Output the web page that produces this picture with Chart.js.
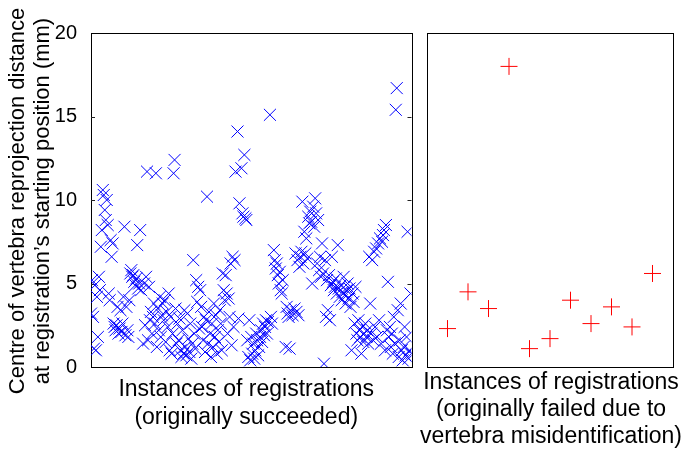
<!DOCTYPE html>
<html>
<head>
<meta charset="utf-8">
<title>Reprojection distance at starting position</title>
<script src="https://cdn.jsdelivr.net/npm/chart.js@4/dist/chart.umd.min.js"></script>
<style>
  html, body { margin: 0; padding: 0; background: #fff; width: 700px; height: 449px; overflow: hidden; }
  canvas { position: absolute; top: 0; }
  #succeeded { left: 0; }
  #failed { left: 400px; }
</style>
</head>
<body>
<canvas id="succeeded" width="421" height="449"></canvas>
<canvas id="failed" width="300" height="449"></canvas>
<script>
// ---- data ----
const yTickValues = [0, 5, 10, 15, 20];

// registrations that originally succeeded (instance number, distance in mm)
const succeededIndex = [
  0, 1, 2, 3, 4, 5, 6, 7, 8, 9, 10, 11, 12, 13, 14, 15, 16, 17, 18, 19,
  20, 21, 22, 23, 24, 25, 26, 27, 28, 29, 30, 31, 32, 33, 34, 35, 36, 37, 38, 39,
  40, 41, 42, 43, 44, 45, 46, 47, 48, 49, 50, 51, 53, 54, 55, 56, 57, 58, 59,
  60, 61, 62, 63, 64, 65, 66, 67, 68, 69, 70, 71, 72, 73, 74, 75, 76, 77, 78, 79,
  80, 81, 82, 83, 84, 85, 86, 87, 88, 89, 90, 91, 92, 93, 94, 95, 96, 97, 98, 99,
  100, 101, 102, 103, 104, 105, 106, 107, 108, 109, 110, 111, 112, 113, 114, 115, 116, 117, 118, 119,
  120, 121, 122, 123, 124, 125, 126, 127, 128, 129, 130, 131, 132, 133, 134, 135, 136, 137, 138, 139,
  140, 141, 142, 143, 144, 145, 146, 147, 149, 150, 151, 153, 154, 155, 156, 157, 158, 159,
  160, 161, 162, 163, 164, 165, 166, 167, 168, 169, 170, 171, 172, 173, 174, 175, 176, 177, 178, 179,
  180, 182, 183, 184, 186, 187, 188, 189, 190, 191, 192, 193, 194, 195, 198, 199,
  200, 201, 202, 203, 205, 207, 208, 209, 210, 211, 212, 213, 214, 215, 216, 217, 218, 219,
  220, 221, 222, 223, 224, 225, 226, 227, 228, 229, 230, 231, 232, 233, 234, 235, 236, 237, 238, 239,
  240, 241, 242, 243, 244, 245, 246, 247, 248, 249, 250, 251, 252, 253, 254, 255, 256, 257, 258, 259,
  260, 261, 262, 263, 264, 265, 266, 267, 268, 269, 270, 271, 272, 273, 274, 275, 276, 277, 278, 279,
  280, 281, 282, 283, 284, 285, 286, 287, 288, 289, 290, 291, 292, 293, 294, 295, 296, 297, 298, 299,
  300, 301, 302, 303, 304, 305, 306, 307, 308, 309, 310, 311, 312, 313, 314, 315, 316, 317, 318, 319,
  320, 321, 322, 323, 324, 325, 326
];
const succeededDistance = [
  3.2, 5.2, 3.0, 1.1, 4.9, 1.0, 4.2, 1.8, 5.4, 4.6, 7.2, 8.2, 10.6, 10.3, 9.4, 8.8, 10.0, 8.5, 4.4, 4.0,
  7.6, 6.6, 7.4, 2.6, 2.4, 2.2, 2.5, 3.6, 2.0, 2.3, 3.4, 2.1, 2.6, 4.2, 8.4, 1.9, 3.6, 2.2, 1.8, 4.0,
  5.6, 5.8, 5.4, 5.5, 5.1, 4.9, 5.3, 7.3, 4.7, 5.0, 8.2, 4.6, 1.4, 5.0, 2.5, 5.4, 11.7, 1.6, 4.8,
  2.8, 3.3, 2.0, 3.0, 3.8, 2.6, 11.6, 1.2, 3.5, 2.2, 4.2, 1.8, 3.1, 3.8, 2.8, 4.0, 1.5, 3.3, 2.4, 4.4,
  1.0, 3.0, 0.8, 2.0, 11.6, 12.4, 3.5, 1.4, 2.6, 1.6, 2.9, 1.0, 0.6, 2.2, 0.8, 3.4, 1.2, 0.7, 3.2, 1.7,
  0.9, 2.6, 0.5, 1.4, 6.4, 2.0, 1.1, 5.2, 3.9, 4.8, 2.3, 4.6, 3.6, 2.4, 1.6, 3.0, 0.9, 2.8, 10.2, 1.4,
  3.3, 2.0, 0.6, 2.6, 1.2, 3.8, 1.8, 3.1, 0.8, 2.2, 1.5, 3.4, 2.6, 1.0, 5.6, 4.6, 4.0, 5.5, 4.4, 2.0,
  4.1, 3.0, 6.2, 1.3, 6.6, 2.4, 6.4, 11.7, 14.1, 2.9, 9.8, 11.9, 9.2, 9.0, 12.7, 8.9, 8.8, 1.6,
  0.6, 2.8, 0.4, 1.8, 0.8, 1.4, 0.5, 1.0, 2.0, 1.6, 0.7, 1.2, 1.8, 2.2, 1.5, 2.6, 1.9, 2.4, 2.8, 2.0,
  2.7, 15.1, 3.0, 2.6, 7.0, 6.4, 5.9, 6.2, 5.5, 5.0, 5.7, 4.6, 4.4, 5.2, 1.2, 3.6,
  3.2, 3.0, 1.1, 3.4, 3.1, 3.5, 6.8, 3.3, 6.4, 3.1, 6.0, 6.6, 6.9, 9.9, 6.2, 8.1, 6.8, 7.7,
  6.5, 9.0, 8.6, 9.3, 8.7, 5.0, 9.6, 8.4, 10.1, 9.2, 6.2, 8.8, 5.8, 6.6, 5.4, 7.4, 5.6, 0.2, 6.4, 3.0,
  5.2, 3.4, 5.5, 2.8, 4.9, 6.6, 5.1, 4.6, 4.8, 5.3, 4.4, 7.3, 4.7, 4.2, 4.9, 4.0, 4.5, 5.4, 4.3, 3.8,
  4.6, 5.0, 4.1, 4.7, 3.6, 1.0, 4.4, 3.9, 2.6, 4.8, 2.0, 1.6, 2.8, 2.2, 1.8, 0.8, 2.4, 1.5, 2.0, 2.6,
  1.8, 2.2, 1.4, 6.6, 3.8, 2.0, 6.4, 1.6, 6.9, 2.4, 7.1, 1.8, 7.4, 2.8, 7.7, 1.4, 7.5, 7.9, 8.2, 1.0,
  8.5, 2.2, 5.1, 1.8, 2.4, 1.2, 2.0, 0.8, 3.0, 1.4, 15.4, 16.7, 3.4, 0.6, 1.6, 3.8, 1.0, 0.4, 1.2, 2.4,
  0.7, 1.8, 8.1, 0.5, 1.0, 4.4, 0.8
];
const succeededCount = 326;

// registrations that originally failed due to vertebra misidentification
const failedIndex = [1, 2, 3, 4, 5, 6, 7, 8, 9, 10, 11];
const failedDistance = [2.3, 4.5, 3.5, 18.0, 1.1, 1.7, 4.0, 2.6, 3.6, 2.4, 5.6];
const failedCount = 12;

const yTitleLines = [
  'Centre of vertebra reprojection distance',
  "at registration\u2019s starting position (mm)"
];
const succeededLabelLines = ['Instances of registrations', '(originally succeeded)'];
const failedLabelLines = ['Instances of registrations', '(originally failed due to', 'vertebra misidentification)'];

// ---- styling ----
const FONT = "'Liberation Sans', Arial, Helvetica, sans-serif";

// axes box plus small inward tick marks on the value axis
const panelFrame = {
  id: 'panelFrame',
  beforeDatasetsDraw(chart, args, opts) {
    const { ctx, chartArea: a } = chart;
    ctx.save();
    ctx.strokeStyle = '#000';
    ctx.lineWidth = 1;
    ctx.strokeRect(Math.round(a.left) + 0.5, Math.round(a.top) + 0.5,
                   Math.round(a.right - a.left), Math.round(a.bottom - a.top));
    if (opts.innerTicks) {
      const y = chart.scales.y;
      ctx.strokeStyle = '#222';
      ctx.beginPath();
      yTickValues.slice(1, -1).forEach(v => {
        const py = Math.round(y.getPixelForValue(v)) + 0.5;
        ctx.moveTo(a.left, py); ctx.lineTo(a.left + 4, py);
        ctx.moveTo(a.right, py); ctx.lineTo(a.right - 4, py);
      });
      ctx.stroke();
    }
    ctx.restore();
  }
};

// axis captions drawn under each panel, and the rotated value-axis caption
const panelCaptions = {
  id: 'panelCaptions',
  afterDraw(chart, args, opts) {
    const { ctx, chartArea: a } = chart;
    ctx.save();
    ctx.fillStyle = '#000';
    ctx.textBaseline = 'middle';
    ctx.textAlign = 'center';
    ctx.font = opts.size + 'px ' + FONT;
    const cx = (a.left + a.right) / 2 + opts.dx;
    opts.lines.forEach((t, i) => {
      ctx.fillText(t, cx, a.bottom + opts.firstOffset + i * opts.lineHeight);
    });
    if (opts.yLines) {
      ctx.font = opts.ySize + 'px ' + FONT;
      const cy = (a.top + a.bottom) / 2 + 1;
      opts.yLines.forEach((t, i) => {
        ctx.save();
        ctx.translate(opts.yFirstX + i * opts.yLineHeight, cy);
        ctx.rotate(-Math.PI / 2);
        ctx.fillText(t, 0, 0);
        ctx.restore();
      });
    }
    ctx.restore();
  }
};

const common = {
  responsive: false,
  animation: false,
  devicePixelRatio: 1,
  events: []
};

new Chart(document.getElementById('succeeded'), {
  type: 'scatter',
  data: {
    datasets: [{
      data: succeededIndex.map((x, i) => ({ x, y: succeededDistance[i] })),
      pointStyle: 'crossRot',
      pointRadius: 8.5,
      pointBorderWidth: 1,
      borderColor: '#0000ff',
      backgroundColor: '#0000ff'
    }]
  },
  options: {
    ...common,
    layout: { padding: { top: 33, right: 4, bottom: 82, left: 0 } },
    plugins: {
      legend: { display: false },
      tooltip: { enabled: false },
      panelFrame: { innerTicks: true },
      panelCaptions: {
        lines: succeededLabelLines, size: 23, dx: -5, firstOffset: 23, lineHeight: 28,
        yLines: yTitleLines, ySize: 22, yFirstX: 18, yLineHeight: 25
      }
    },
    scales: {
      x: { type: 'linear', min: 0, max: succeededCount, display: false },
      y: {
        type: 'linear', min: 0, max: 20,
        afterFit(scale) { scale.width = 91; },
        afterBuildTicks(scale) { scale.ticks = yTickValues.map(v => ({ value: v })); },
        grid: { display: false },
        border: { display: false },
        ticks: { padding: 6, color: '#000', font: { family: FONT, size: 20 } }
      }
    }
  },
  plugins: [panelFrame, panelCaptions]
});

new Chart(document.getElementById('failed'), {
  type: 'scatter',
  data: {
    datasets: [{
      data: failedIndex.map((x, i) => ({ x, y: failedDistance[i] })),
      pointStyle: 'cross',
      pointRadius: 8.5,
      pointBorderWidth: 1,
      borderColor: '#ff0000',
      backgroundColor: '#ff0000'
    }]
  },
  options: {
    ...common,
    layout: { padding: { top: 33, right: 27, bottom: 82, left: 27 } },
    plugins: {
      legend: { display: false },
      tooltip: { enabled: false },
      panelFrame: { innerTicks: false },
      panelCaptions: { lines: failedLabelLines, size: 23, dx: 1, firstOffset: 16, lineHeight: 27 }
    },
    scales: {
      x: { type: 'linear', min: 0, max: failedCount, display: false },
      y: { type: 'linear', min: 0, max: 20, display: false }
    }
  },
  plugins: [panelFrame, panelCaptions]
});
</script>
</body>
</html>
